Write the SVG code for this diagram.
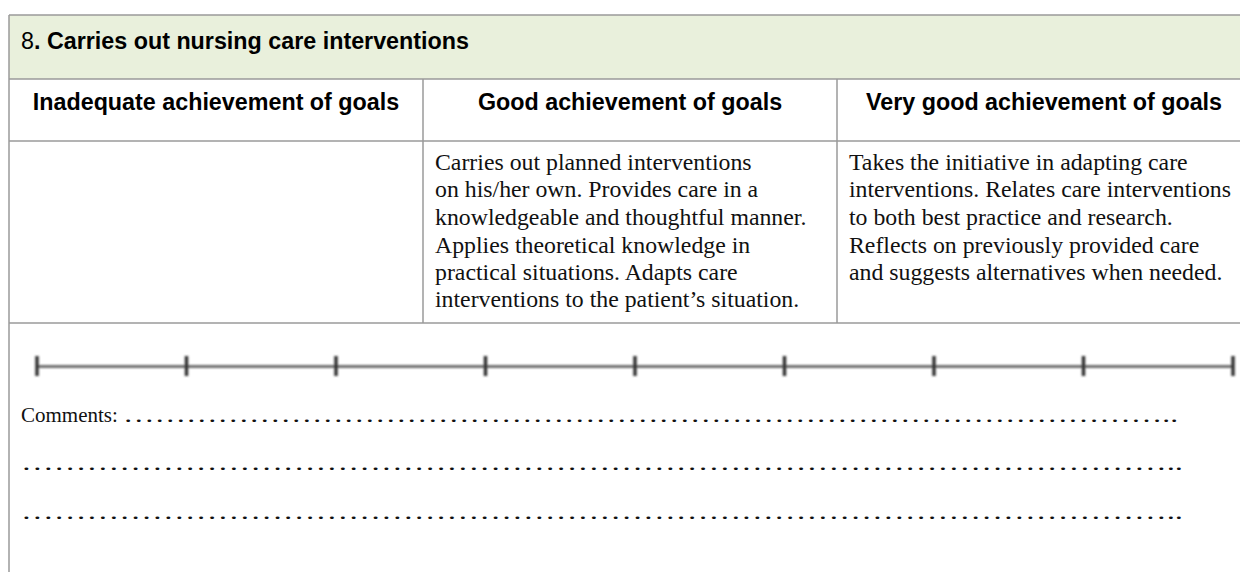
<svg xmlns="http://www.w3.org/2000/svg" width="1240" height="572" viewBox="0 0 1240 572">
<style>
.grid{stroke:#9a9a9a;stroke-width:1.5;fill:none}
.hd{font-family:"Liberation Sans",Arial,sans-serif;font-weight:bold;font-size:23.3px;fill:#000}
.bd{font-family:"Liberation Serif","Times New Roman",serif;font-size:23.8px;fill:#111}
.cm{font-family:"Liberation Serif","Times New Roman",serif;font-size:21px;fill:#111}
.tick{stroke:#333;stroke-width:3.5}
</style>
<defs>
<filter id="soft" x="-5%" y="-100%" width="110%" height="300%"><feGaussianBlur stdDeviation="0.9"/></filter>
</defs>
<rect width="1240" height="572" fill="#fff"/>
<g id="title">
<rect x="9" y="15" width="1231" height="64" fill="#e9f0dc"/>
<text x="21" y="49" class="hd"><tspan font-weight="normal">8</tspan>. Carries out nursing care interventions</text>
</g>
<g id="head-inadequate"><text x="216" y="110" class="hd" text-anchor="middle">Inadequate achievement of goals</text></g>
<g id="head-good"><text x="630" y="110" class="hd" text-anchor="middle">Good achievement of goals</text></g>
<g id="head-verygood"><text x="1044" y="110" class="hd" text-anchor="middle">Very good achievement of goals</text></g>
<g id="cell-good" class="bd">
<text x="435" y="170">Carries out planned interventions</text>
<text x="435" y="197">on his/her own. Provides care in a</text>
<text x="435" y="225">knowledgeable and thoughtful manner.</text>
<text x="435" y="253">Applies theoretical knowledge in</text>
<text x="435" y="280">practical situations. Adapts care</text>
<text x="435" y="307">interventions to the patient’s situation.</text>
</g>
<g id="cell-verygood" class="bd">
<text x="849" y="170">Takes the initiative in adapting care</text>
<text x="849" y="197">interventions. Relates care interventions</text>
<text x="849" y="225">to both best practice and research.</text>
<text x="849" y="253">Reflects on previously provided care</text>
<text x="849" y="280">and suggests alternatives when needed.</text>
</g>
<g id="grid" class="grid">
<line x1="9" y1="15" x2="1240" y2="15"/>
<line x1="9" y1="15" x2="9" y2="572"/>
<line x1="9" y1="79" x2="1240" y2="79"/>
<line x1="9" y1="141" x2="1240" y2="141"/>
<line x1="9" y1="323" x2="1240" y2="323"/>
<line x1="423" y1="79" x2="423" y2="323"/>
<line x1="837" y1="79" x2="837" y2="323"/>
</g>
<g id="scale" filter="url(#soft)">
<line x1="37" y1="366.5" x2="1233" y2="366.5" stroke="#6e6e6e" stroke-width="3"/>
<line class="tick" x1="37" y1="356" x2="37" y2="376"/>
<line class="tick" x1="186.5" y1="356" x2="186.5" y2="376"/>
<line class="tick" x1="336" y1="356" x2="336" y2="376"/>
<line class="tick" x1="485.5" y1="356" x2="485.5" y2="376"/>
<line class="tick" x1="635" y1="356" x2="635" y2="376"/>
<line class="tick" x1="784.5" y1="356" x2="784.5" y2="376"/>
<line class="tick" x1="934" y1="356" x2="934" y2="376"/>
<line class="tick" x1="1083.5" y1="356" x2="1083.5" y2="376"/>
<line class="tick" x1="1233" y1="356" x2="1233" y2="376"/>
</g>
<g id="comments" class="cm">
<text x="21" y="422">Comments: <tspan textLength="1055" lengthAdjust="spacingAndGlyphs">………………………………………………………………………………………..</tspan></text>
<text x="21" y="470" textLength="1162" lengthAdjust="spacingAndGlyphs">……………………………………………………………………………………………..</text>
<text x="21" y="519" textLength="1162" lengthAdjust="spacingAndGlyphs">……………………………………………………………………………………………..</text>
</g>
</svg>
